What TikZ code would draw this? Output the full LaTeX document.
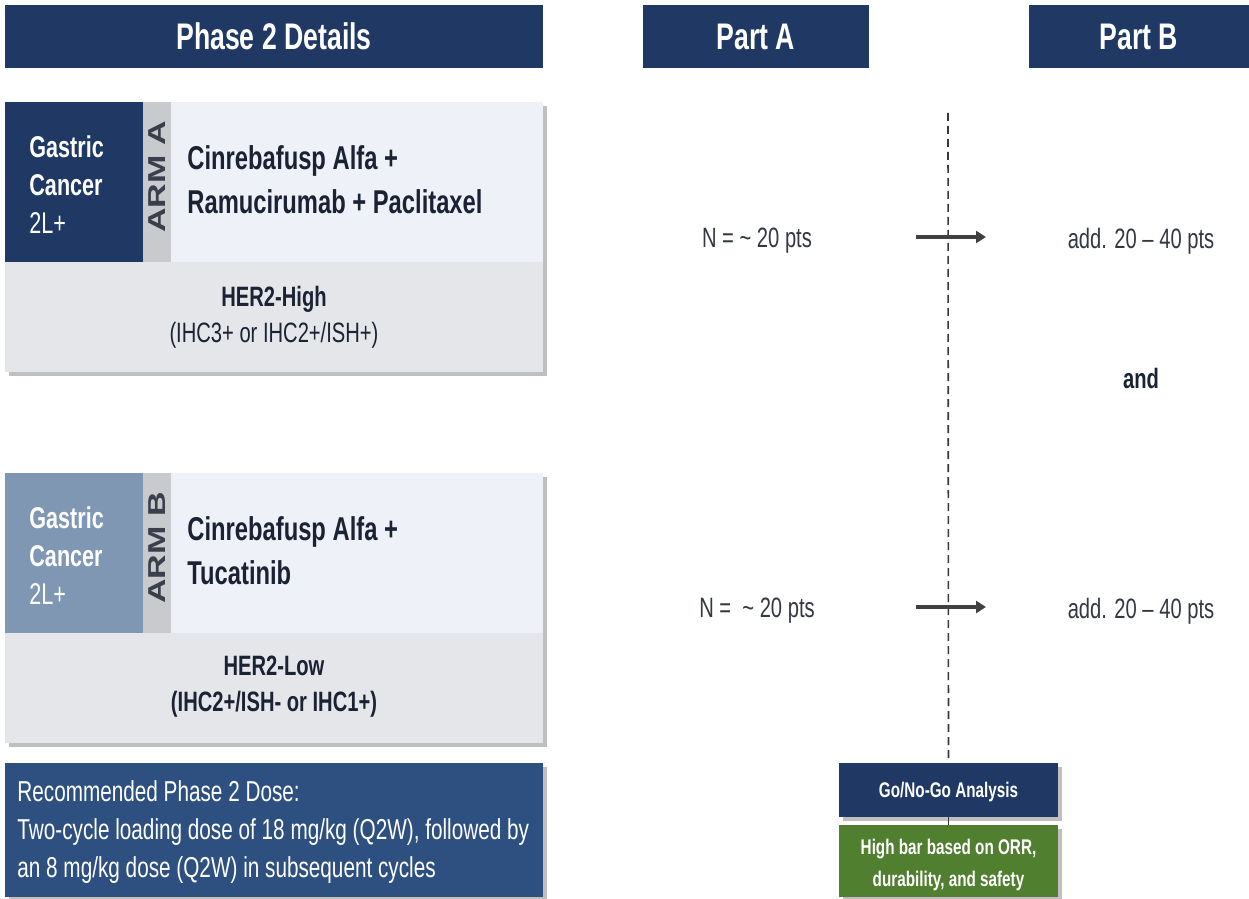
\documentclass[tikz,border=0pt]{standalone}
\usepackage{fontspec}
\setmainfont[FakeStretch=0.72]{Liberation Sans}
\newfontfamily\plainsans{Liberation Sans}
\usetikzlibrary{shadows,arrows.meta}
\definecolor{navy}{HTML}{1F3864}
\definecolor{lightbox}{HTML}{EEF1F8}
\definecolor{greybox}{HTML}{E4E6EA}
\definecolor{strip}{HTML}{C9CACE}
\definecolor{steel}{HTML}{7F97B3}
\definecolor{dosebox}{HTML}{2D5080}
\definecolor{greenbox}{HTML}{4F7F2F}
\definecolor{txtdark}{HTML}{1A2233}
\definecolor{txtgrey}{HTML}{333842}
\definecolor{armgrey}{HTML}{3A3F4C}
\definecolor{arrowgrey}{HTML}{404040}
\tikzset{
  box/.style={draw=none, inner sep=0pt, outer sep=0pt, anchor=north west},
  shadowed/.style={drop shadow={shadow xshift=2pt, shadow yshift=-2pt, fill=black, opacity=0.25}},
  hdrtext/.style={text=white, font=\bfseries\fontsize{18.5}{23}\selectfont},
  armlabel/.style={rotate=90, text=armgrey, font=\plainsans\bfseries\fontsize{17}{19}\selectfont, inner sep=0pt},
  arrowline/.style={draw=arrowgrey, line width=1.6pt, -{Triangle[length=5pt,width=6pt]}},
  dashline/.style={draw=txtgrey, line width=0.8pt, dash pattern=on 4pt off 2.5pt},
}
\begin{document}
\begin{tikzpicture}[x=0.5pt,y=-0.5pt]
\useasboundingbox (0,0) rectangle (1249,899);
\fill[white] (0,0) rectangle (1249,899);
% headers
\node[box, fill=navy, minimum width=269pt, minimum height=31.5pt] (hdr) at (5,5) {};
\node[hdrtext] (hdrt) at (hdr.center) {Phase 2 Details};
\node[box, fill=navy, minimum width=113pt, minimum height=31.5pt] (pa) at (643,5) {};
\node[hdrtext] (pat) at (pa.center) {Part A};
\node[box, fill=navy, minimum width=110pt, minimum height=31.5pt] (pb) at (1029,5) {};
\node[hdrtext] (pbt) at (pb.center) {Part B};
% Arm A
\node[box, fill=greybox, shadowed, minimum width=269pt, minimum height=135pt] (armA) at (5,102) {};
\node[box, fill=lightbox, minimum width=186pt, minimum height=80pt] (armAtop) at (171,102) {};
\node[box, fill=navy, minimum width=69pt, minimum height=80pt] (armAleft) at (5,102) {};
\node[box, fill=strip, minimum width=14pt, minimum height=80pt] (armAstrip) at (143,102) {};
\node[anchor=west, text=white, align=left, inner sep=0pt, font=\fontsize{15}{19}\selectfont] (gcA) at (29,185) {\textbf{Gastric}\\\textbf{Cancer}\\2L+};
\node[armlabel] (armAlbl) at (157,177) {\scalebox{1}[0.72]{ARM A}};
\node[anchor=west, text=txtdark, align=left, inner sep=0pt, font=\bfseries\fontsize{16.5}{22}\selectfont] (drugA) at (187,180) {Cinrebafusp Alfa +\\Ramucirumab + Paclitaxel};
\node[text=txtdark, align=center, inner sep=0pt, font=\fontsize{14}{18}\selectfont] (herA) at (274,317) {\textbf{HER2-High}\\(IHC3+ or IHC2+/ISH+)};
% Arm B
\node[box, fill=greybox, shadowed, minimum width=269pt, minimum height=135pt] (armB) at (5,473) {};
\node[box, fill=lightbox, minimum width=186pt, minimum height=80pt] (armBtop) at (171,473) {};
\node[box, fill=steel, minimum width=69pt, minimum height=80pt] (armBleft) at (5,473) {};
\node[box, fill=strip, minimum width=14pt, minimum height=80pt] (armBstrip) at (143,473) {};
\node[anchor=west, text=white, align=left, inner sep=0pt, font=\fontsize{15}{19}\selectfont] (gcB) at (29,556) {\textbf{Gastric}\\\textbf{Cancer}\\2L+};
\node[armlabel] (armBlbl) at (157,548) {\scalebox{1}[0.72]{ARM B}};
\node[anchor=west, text=txtdark, align=left, inner sep=0pt, font=\bfseries\fontsize{16.5}{22}\selectfont] (drugB) at (187,551) {Cinrebafusp Alfa +\\Tucatinib};
\node[text=txtdark, align=center, inner sep=0pt, font=\bfseries\fontsize{14}{18}\selectfont] (herB) at (274,687) {HER2-Low\\(IHC2+/ISH- or IHC1+)};
% dose
\node[box, fill=dosebox, shadowed, minimum width=269pt, minimum height=67pt] (dose) at (5,763) {};
\node[anchor=west, text=white, align=left, inner sep=0pt, font=\fontsize{14.4}{19}\selectfont] (doset) at (17,832) {Recommended Phase 2 Dose:\\Two-cycle loading dose of 18 mg/kg (Q2W), followed by\\an 8 mg/kg dose (Q2W) in subsequent cycles};
% Part A / B texts
\node[text=txtgrey, font=\fontsize{14}{17}\selectfont, inner sep=0pt] (nA) at (757,241) {N = \textasciitilde{} 20 pts};
\node[text=txtgrey, font=\fontsize{14}{17}\selectfont, inner sep=0pt] (addA) at (1141,241) {add. 20 -- 40 pts};
\node[text=txtdark, font=\bfseries\fontsize{14}{17}\selectfont, inner sep=0pt] (andt) at (1141,378) {and};
\node[text=txtgrey, font=\fontsize{14}{17}\selectfont, inner sep=0pt] (nB) at (757,611) {N = ~\textasciitilde{} 20 pts};
\node[text=txtgrey, font=\fontsize{14}{17}\selectfont, inner sep=0pt] (addB) at (1141,611) {add. 20 -- 40 pts};
% go / no-go
\node[box, fill=navy, shadowed, minimum width=109.5pt, minimum height=27pt] (go) at (839,763) {};
\node[text=white, font=\bfseries\fontsize{10.6}{12}\selectfont] (got) at ([yshift=-1pt]go.center) {Go/No-Go Analysis};
\node[box, fill=greenbox, shadowed, minimum width=109.5pt, minimum height=36pt] (green) at (839,825) {};
\node[text=white, align=center, font=\bfseries\fontsize{10.6}{16}\selectfont] (greent) at ([yshift=-2pt]green.center) {High bar based on ORR,\\durability, and safety};
% dashed line and arrows
\coordinate (dtop) at (948,113);
\draw[dashline] (dtop) -- (go.north);
\draw[dashline] (go.south) -- (green.north);
\coordinate (a1s) at (916,237);
\coordinate (a1e) at (986,237);
\coordinate (a2s) at (916,607);
\coordinate (a2e) at (986,607);
\draw[arrowline] (a1s) -- (a1e);
\draw[arrowline] (a2s) -- (a2e);
\end{tikzpicture}
\end{document}
